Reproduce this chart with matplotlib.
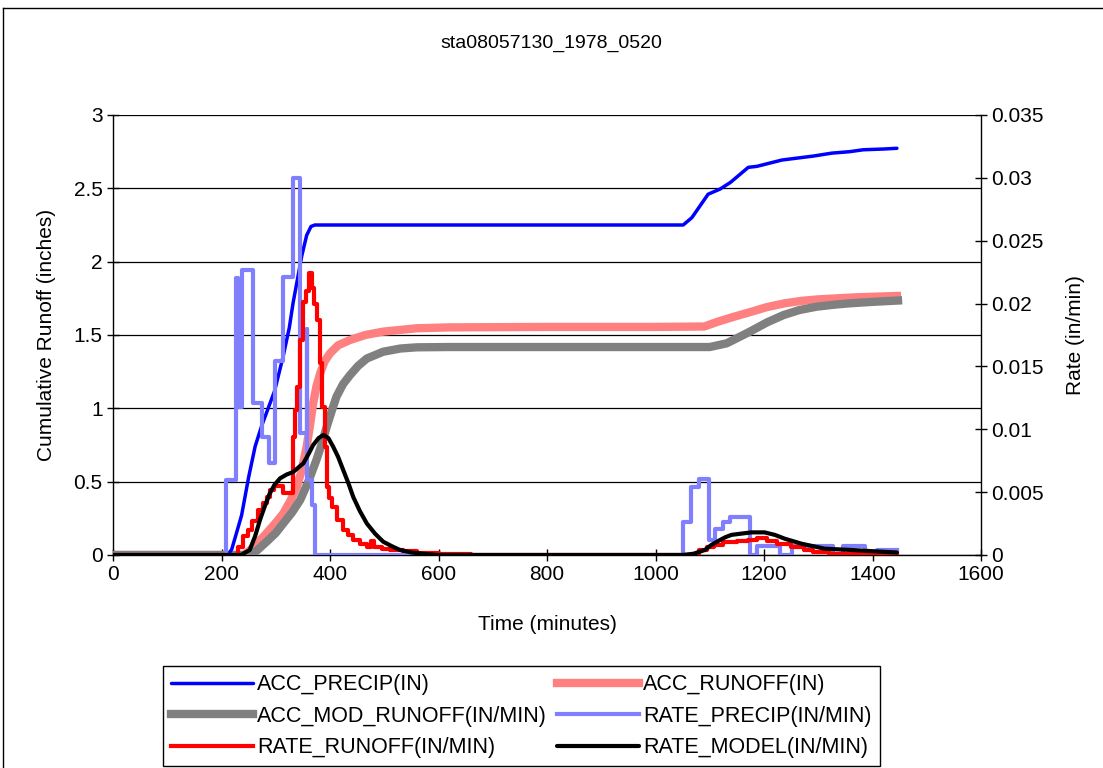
import matplotlib
matplotlib.use("Agg")
import matplotlib.pyplot as plt
from matplotlib.lines import Line2D

plt.rcParams['font.family'] = ['Liberation Sans', 'DejaVu Sans']

# ---------------- text ----------------
title = "sta08057130_1978_0520"
x_label = "Time (minutes)"
y_left_label = "Cumulative Runoff (inches)"
y_right_label = "Rate (in/min)"

x_ticks = [0, 200, 400, 600, 800, 1000, 1200, 1400, 1600]
left_ticks = [0, 0.5, 1, 1.5, 2, 2.5, 3]
left_tick_labels = ["0", "0.5", "1", "1.5", "2", "2.5", "3"]
right_ticks = [0, 0.005, 0.01, 0.015, 0.02, 0.025, 0.03, 0.035]
right_tick_labels = ["0", "0.005", "0.01", "0.015", "0.02", "0.025", "0.03", "0.035"]

series_names = ["ACC_PRECIP(IN)", "ACC_RUNOFF(IN)", "ACC_MOD_RUNOFF(IN/MIN)",
                "RATE_PRECIP(IN/MIN)", "RATE_RUNOFF(IN/MIN)", "RATE_MODEL(IN/MIN)"]

# ---------------- data ----------------
acc_precip_t = [0, 212, 219, 237, 250, 262, 274, 298, 314, 325, 332, 348, 357, 365, 372,
                1051, 1067, 1097, 1119, 1138, 1171, 1187, 1233, 1291, 1325, 1358, 1383, 1420, 1445]
acc_precip_v = [0, 0, 0.04, 0.27, 0.53, 0.74, 0.88, 1.12, 1.36, 1.55, 1.72, 2.04, 2.18, 2.24, 2.25,
                2.25, 2.30, 2.46, 2.495, 2.54, 2.643, 2.65, 2.693, 2.72, 2.74, 2.75, 2.763, 2.768, 2.773]

acc_runoff_t = [0, 240, 252, 266, 283, 300, 314, 327, 339, 348, 357, 363, 369, 375, 382, 390, 400,
                415, 437, 465, 498, 560, 621, 800, 1000, 1090, 1115, 1145, 1177, 1205, 1238, 1270,
                1300, 1370, 1445]
acc_runoff_v = [0, 0, 0.03, 0.08, 0.148, 0.22, 0.284, 0.37, 0.466, 0.58, 0.74, 0.88, 1.035, 1.15,
                1.24, 1.32, 1.375, 1.43, 1.466, 1.50, 1.523, 1.546, 1.552, 1.555, 1.555, 1.558, 1.591,
                1.625, 1.659, 1.69, 1.716, 1.733, 1.743, 1.757, 1.766]

acc_mod_runoff_t = [0, 248, 265, 283, 300, 314, 330, 345, 360, 375, 385, 394, 403, 412, 424, 437,
                    452, 468, 498, 530, 560, 621, 800, 1000, 1100, 1131, 1150, 1174, 1205, 1236,
                    1265, 1297, 1330, 1358, 1400, 1447]
acc_mod_runoff_v = [0, 0, 0.03, 0.09, 0.15, 0.216, 0.29, 0.375, 0.5, 0.648, 0.76, 0.875, 0.98,
                    1.08, 1.165, 1.227, 1.29, 1.34, 1.386, 1.408, 1.416, 1.418, 1.418, 1.418, 1.418,
                    1.443, 1.478, 1.523, 1.585, 1.636, 1.67, 1.693, 1.707, 1.716, 1.726, 1.735]

rate_precip_t = [0, 209, 226, 230, 237, 258, 274, 288, 299, 314, 331, 344, 357, 357.5, 366, 372,
                 1051, 1065, 1080, 1099, 1110, 1124, 1137, 1175, 1188, 1230, 1251, 1328, 1346,
                 1386, 1408, 1445]
rate_precip_v = [0, 0.006, 0.022, 0.0118, 0.0227, 0.0121, 0.0094, 0.0073, 0.0154, 0.0221, 0.0300,
                 0.0097, 0.018, 0.006, 0.0040, 0,
                 0.00265, 0.00544, 0.00602, 0.0012, 0.00204, 0.00265, 0.0030, 0, 0.0007, 0,
                 0.0007, 0, 0.0007, 0, 0.0004, 0.0004]

rate_runoff_t = [0, 231, 240, 248, 256, 267, 276, 283, 290, 297, 314, 331, 336, 340, 344, 350,
                 356, 361, 366, 370, 376, 381, 385, 390, 394, 398, 403, 412, 424, 434, 443, 455,
                 468, 476, 482, 495, 510, 535, 560, 600, 660,
                 1080, 1095, 1107, 1125, 1150, 1170, 1187, 1206, 1224, 1249, 1273, 1290, 1320, 1445]
rate_runoff_v = [0, 0.0006, 0.0015, 0.0020, 0.0027, 0.0036, 0.0041, 0.0046, 0.0052, 0.0055,
                 0.0049, 0.0094, 0.0115, 0.0134, 0.0171, 0.0201, 0.0210, 0.0224, 0.0212, 0.0200,
                 0.0187, 0.0153, 0.0118, 0.0086, 0.0054, 0.0045, 0.0038, 0.0028, 0.0020, 0.0016,
                 0.0012, 0.0009, 0.00066, 0.0011, 0.0006, 0.0005, 0.0004, 0.0003, 0.00013,
                 0.00006, 0,
                 0.0004, 0.0006, 0.0008, 0.00106, 0.0011, 0.0012, 0.00133, 0.0011, 0.0009,
                 0.0006, 0.0004, 0.00026, 0.0001, 0.0001]

rate_model_t = [0, 236, 252, 262, 271, 280, 289, 298, 308, 320, 332, 351, 360, 369, 379, 388,
                397, 406, 415, 424, 434, 443, 455, 468, 483, 498, 514, 529, 550, 572, 600,
                1050, 1070, 1091, 1103, 1115, 1128, 1140, 1158, 1177, 1201, 1220, 1238, 1269,
                1312, 1361, 1400, 1445]
rate_model_v = [0, 0, 0.0004, 0.0015, 0.0028, 0.0039, 0.0049, 0.0056, 0.0061, 0.0064, 0.0066,
                0.0073, 0.0080, 0.00875, 0.0093, 0.00955, 0.0093, 0.0086, 0.0078, 0.0068, 0.0057,
                0.0046, 0.0035, 0.0025, 0.0017, 0.00106, 0.0007, 0.0004, 0.0002, 0.0001, 0,
                0, 0.0001, 0.0004, 0.0008, 0.0011, 0.0014, 0.0016, 0.0017, 0.0018, 0.0018,
                0.0016, 0.0013, 0.0009, 0.0005, 0.0004, 0.0003, 0.0002]

# ---------------- fonts ----------------
FS_TICK = 15
FS_LABEL = 15
FS_TITLE = 14
FS_LEGEND = 15.5

# ---------------- figure ----------------
W, H = 1103, 768
fig = plt.figure(figsize=(W / 100, H / 100), dpi=100)
ax = fig.add_axes([113 / W, 1 - 555 / H, 868 / W, 440 / H])
ax2 = ax.twinx()

l_acc_precip, = ax.plot(acc_precip_t, acc_precip_v, color='#0000FF', lw=2.5,
                        solid_joinstyle='round', solid_capstyle='round', zorder=4)
l_acc_runoff, = ax.plot(acc_runoff_t, acc_runoff_v, color='#FF8080', lw=6,
                        solid_joinstyle='round', zorder=2)
l_acc_mod, = ax.plot(acc_mod_runoff_t, acc_mod_runoff_v, color='#808080', lw=6,
                     solid_joinstyle='round', zorder=3)

l_rate_precip, = ax2.plot(rate_precip_t, rate_precip_v, color='#8080FF', lw=3,
                          drawstyle='steps-post', zorder=2)
l_rate_runoff, = ax2.plot(rate_runoff_t, rate_runoff_v, color='#FF0000', lw=3,
                          drawstyle='steps-post', zorder=3)
l_rate_model, = ax2.plot(rate_model_t, rate_model_v, color='#000000', lw=3,
                         solid_joinstyle='round', solid_capstyle='round', zorder=4)

ax.set_xlim(0, 1600)
ax.set_ylim(0, 3)
ax2.set_ylim(0, 0.035)

ax.set_xticks(x_ticks)
ax.set_xticklabels([str(v) for v in x_ticks])
ax.set_yticks(left_ticks)
ax.set_yticklabels(left_tick_labels)
ax2.set_yticks(right_ticks)
ax2.set_yticklabels(right_tick_labels)

for a in (ax, ax2):
    a.tick_params(direction='inout', length=9, width=1, labelsize=FS_TICK, pad=3,
                  colors='black')
    a.spines['top'].set_visible(False)
    for s in a.spines.values():
        s.set_linewidth(1)
        s.set_color('black')
ax.spines['right'].set_visible(False)
ax2.spines['left'].set_visible(False)
ax2.spines['bottom'].set_visible(False)

ax.yaxis.grid(True, color='black', lw=0.9)
ax.set_axisbelow(True)

ax.set_xlabel(x_label, fontsize=FS_LABEL)
ax.set_ylabel(y_left_label, fontsize=FS_LABEL)
ax2.set_ylabel(y_right_label, fontsize=FS_LABEL)
ax.xaxis.set_label_coords(0.5, -0.137)
ax.yaxis.set_label_coords(-0.066, 0.5)
ax2.yaxis.set_label_coords(1.098, 0.5)

fig.text(0.5, 1 - 43 / H, title, ha='center', va='center', fontsize=FS_TITLE)

# outer chart border (clipped at right/bottom like the reference)
fig.add_artist(Line2D([3 / W, 3 / W], [0, 1 - 8 / H], transform=fig.transFigure,
                      color='black', lw=1))
fig.add_artist(Line2D([3 / W, 1], [1 - 8 / H, 1 - 8 / H], transform=fig.transFigure,
                      color='black', lw=1))

handles = [l_acc_precip, l_acc_mod, l_rate_runoff, l_acc_runoff, l_rate_precip, l_rate_model]
labels = [series_names[0], series_names[2], series_names[4],
          series_names[1], series_names[3], series_names[5]]
leg = fig.legend(handles, labels, ncol=2, loc='upper left',
                 bbox_to_anchor=(163 / W, 1 - 666 / H), bbox_transform=fig.transFigure,
                 frameon=True, fancybox=False, edgecolor='black', framealpha=1,
                 borderaxespad=0, handlelength=3.8, handletextpad=0.2, columnspacing=0.45,
                 labelspacing=0.49, borderpad=0.38, fontsize=FS_LEGEND)
leg.get_frame().set_linewidth(1)

fig.savefig("out.png", dpi=100)
